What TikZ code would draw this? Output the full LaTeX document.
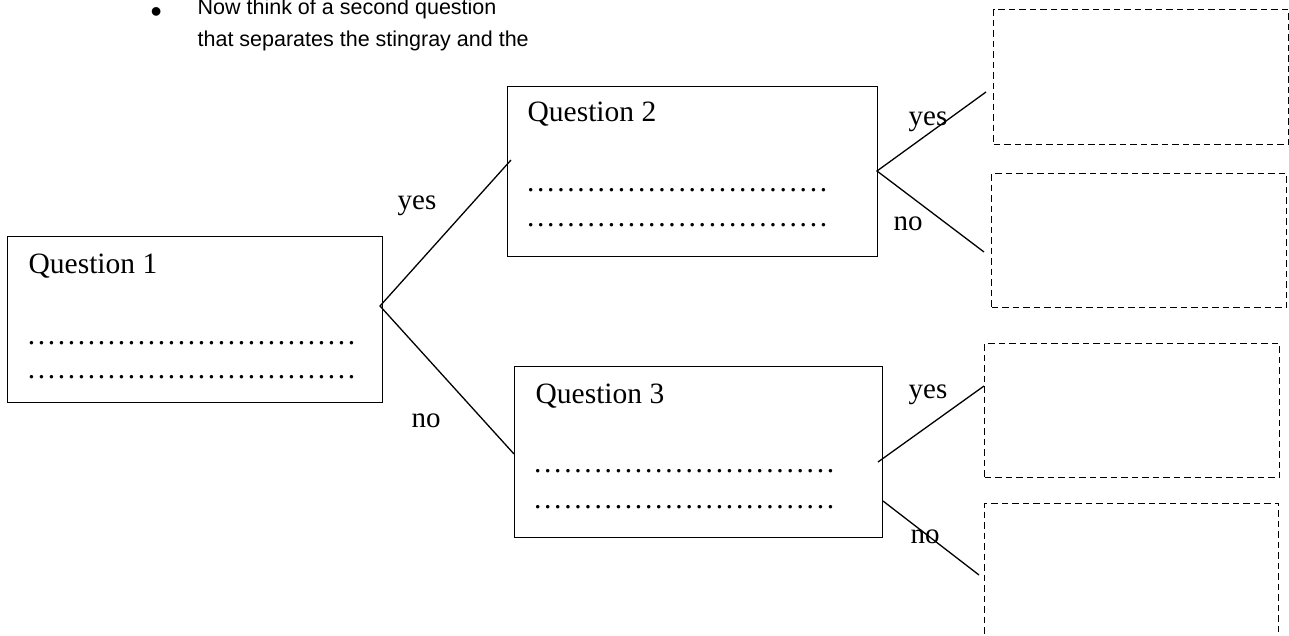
\documentclass[tikz,border=0pt]{standalone}
\usepackage{fontspec}
\setmainfont{Liberation Serif}
\newfontfamily\arialf{Liberation Sans}
\newcommand\dq[1]{\makebox[#1][c]{.}}
\newcommand\dten[1]{\dq{#1}\dq{#1}\dq{#1}\dq{#1}\dq{#1}\dq{#1}\dq{#1}\dq{#1}\dq{#1}\dq{#1}}
\begin{document}
\begin{tikzpicture}[x=1pt,y=-1pt,line width=1.3pt,
  qbox/.style={draw,line width=1.3pt,inner sep=0pt,anchor=north west},
  dbox/.style={draw,line width=1.3pt,inner sep=0pt,anchor=north west,dash pattern=on 6.5pt off 4pt},
  qtext/.style={anchor=base west,inner sep=0pt,font=\fontsize{29.5}{34}\selectfont},
  lab/.style={anchor=base west,inner sep=0pt,font=\fontsize{29}{34}\selectfont},
  top/.style={anchor=base west,inner sep=0pt,font=\arialf\fontsize{21.5}{25}\selectfont},
  conn/.style={line width=1.3pt}]
\useasboundingbox (0,0) rectangle (1289,636);
\clip (0,0) rectangle (1289,636);
% top instruction text
\node[top,font=\arialf\fontsize{32}{36}\selectfont] (bul) at (150,23) {•};
\node[top] (t1) at (197,15) {Now think of a second question};
\node[top] (t2) at (197,47) {that separates the stingray and the};
% question boxes
\node[qbox,minimum width=375pt,minimum height=166pt] (q1) at (7,236) {};
\node[qbox,minimum width=370pt,minimum height=170pt] (q2) at (507,86) {};
\node[qbox,minimum width=368pt,minimum height=171pt] (q3) at (514,366) {};
% dashed answer boxes
\node[dbox,minimum width=295pt,minimum height=135pt] (d1) at (993,9) {};
\node[dbox,minimum width=295pt,minimum height=134pt] (d2) at (991,173) {};
\node[dbox,minimum width=295pt,minimum height=134pt] (d3) at (984,343) {};
\node[dbox,minimum width=294pt,minimum height=160pt] (d4) at (984,503) {};
% box texts
\node[qtext] (q1t) at (28,273) {Question 1};
\node[qtext] (q1a) at (26,344) {\dten{10pt}\dten{10pt}\dten{10pt}\dq{10pt}\dq{10pt}\dq{10pt}};
\node[qtext] (q1b) at (26,378) {\dten{10pt}\dten{10pt}\dten{10pt}\dq{10pt}\dq{10pt}\dq{10pt}};
\node[qtext] (q2t) at (527,122) {Question 2};
\node[qtext] (q2a) at (525,192) {\dten{10.1pt}\dten{10.1pt}\dten{10.1pt}};
\node[qtext] (q2b) at (525,227) {\dten{10.1pt}\dten{10.1pt}\dten{10.1pt}};
\node[qtext] (q3t) at (535,403) {Question 3};
\node[qtext] (q3a) at (532,472) {\dten{10.1pt}\dten{10.1pt}\dten{10.1pt}};
\node[qtext] (q3b) at (532,508) {\dten{10.1pt}\dten{10.1pt}\dten{10.1pt}};
% connector points
\coordinate (f1) at (380,306);
\coordinate (e12) at (511,160);
\coordinate (e13) at (514,454);
\coordinate (f2) at (877,171);
\coordinate (e21) at (986,92);
\coordinate (e22) at (984,252);
\coordinate (f3y) at (878,462);
\coordinate (f3n) at (883,501);
\coordinate (e31) at (984,386);
\coordinate (e32) at (979,575);
\draw[conn] (e12) -- (f1) -- (e13);
\draw[conn] (e21) -- (f2) -- (e22);
\draw[conn] (f3y) -- (e31);
\draw[conn] (f3n) -- (e32);
% labels
\node[lab] (y1) at (397,210) {yes};
\node[lab] (n1) at (411,427) {no};
\node[lab] (y2) at (908,126) {yes};
\node[lab] (n2) at (893,231) {no};
\node[lab] (y3) at (908,398) {yes};
\node[lab] (n3) at (910,543) {no};
\end{tikzpicture}
\end{document}
